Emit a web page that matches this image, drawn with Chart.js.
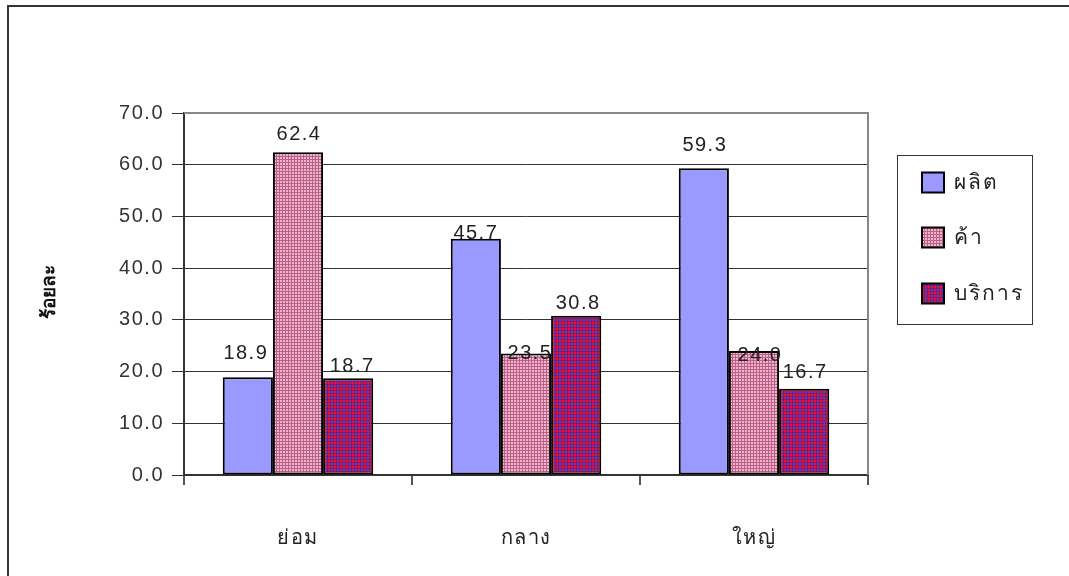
<!DOCTYPE html>
<html>
<head>
<meta charset="utf-8">
<script src="https://cdn.jsdelivr.net/npm/chart.js@4"></script>
<style>
  html, body { margin: 0; padding: 0; background: #fff; }
  #wrap { width: 1069px; height: 576px; position: relative; }
</style>
</head>
<body>
<div id="wrap"><canvas id="myChart" width="1069" height="576"></canvas></div>
<script>
(function () {
    'use strict';

    // Chart data
    var categories = ['ย่อม', 'กลาง', 'ใหญ่'];
    var seriesNames = ['ผลิต', 'ค้า', 'บริการ'];
    var valsProduce = [18.9, 45.7, 59.3];
    var valsTrade   = [62.4, 23.5, 24.0];
    var valsService = [18.7, 30.8, 16.7];
    var yTicks = [0, 10, 20, 30, 40, 50, 60, 70];
    var yTitle = 'ร้อยละ';

    var FONT = "'Liberation Sans', Arial, 'Noto Sans', sans-serif";

    // label nudges (gap above bar top, horizontal shift) per series / category
    var labelGap = [[18, 0, 17], [12, -6, -10], [6, 7, 11]];
    var labelDx  = [[-2, 0, 1], [1, 4, 6], [4, 2, 1]];

    // Fill patterns
    function makePattern(size, draw) {
        var c = document.createElement('canvas');
        c.width = size; c.height = size;
        var g = c.getContext('2d');
        draw(g);
        return g.createPattern(c, 'repeat');
    }

    var ctx = document.getElementById('myChart').getContext('2d');

    var pinkGrid = makePattern(3, function (g) {
        g.fillStyle = '#ebb6cb';
        g.fillRect(0, 0, 3, 3);
        g.fillStyle = '#bd5f88';
        g.fillRect(0, 0, 3, 1);
        g.fillRect(0, 0, 1, 3);
    });

    var redBlue = makePattern(3, function (g) {
        g.fillStyle = '#ff0a1e';
        g.fillRect(0, 0, 3, 3);
        g.fillStyle = '#4030b0';
        g.fillRect(0, 0, 3, 1);
        g.fillRect(0, 0, 1, 3);
    });

    var fills = ['#9999ff', pinkGrid, redBlue];

    var spacing = {
        id: 'spacing',
        beforeDraw: function (chart) { chart.ctx.letterSpacing = '1.5px'; }
    };

    // Value labels, frame, legend box, y title
    var extras = {
        id: 'extras',
        afterDatasetsDraw: function (chart) {
            var c = chart.ctx;
            var area = chart.chartArea;
            c.save();
            c.letterSpacing = '1.5px';
            c.font = '20px ' + FONT;
            c.fillStyle = '#222';
            c.textAlign = 'center';
            c.textBaseline = 'alphabetic';
            chart.data.datasets.forEach(function (ds, di) {
                chart.getDatasetMeta(di).data.forEach(function (bar, i) {
                    c.fillText(ds.data[i].toFixed(1), bar.x + labelDx[di][i], bar.y - labelGap[di][i]);
                });
            });

            // plot frame top/right
            c.strokeStyle = '#888';
            c.lineWidth = 2;
            c.beginPath();
            c.moveTo(area.left, area.top);
            c.lineTo(area.right, area.top);
            c.lineTo(area.right, area.bottom);
            c.stroke();

            // outer border
            c.strokeStyle = '#333';
            c.lineWidth = 2;
            c.beginPath();
            c.moveTo(8, 600);
            c.lineTo(8, 6);
            c.lineTo(1100, 6);
            c.stroke();

            // legend box
            c.strokeStyle = '#333';
            c.lineWidth = 1;
            c.strokeRect(897.5, 155.5, 135, 169);
            c.textAlign = 'left';
            c.textBaseline = 'middle';
            c.font = '21px ' + FONT;
            c.letterSpacing = '2px';
            var rows = [182.5, 237.5, 293.5];
            seriesNames.forEach(function (name, k) {
                c.fillStyle = fills[k];
                c.fillRect(922, rows[k] - 10, 22, 20);
                c.strokeStyle = '#000';
                c.lineWidth = 2;
                c.strokeRect(922, rows[k] - 10, 22, 20);
                c.fillStyle = '#222';
                c.fillText(name, 954, rows[k] + 1);
            });

            // y title
            c.letterSpacing = '0px';
            c.translate(50, 292);
            c.rotate(-Math.PI / 2);
            c.textAlign = 'center';
            c.font = 'bold 19px ' + FONT;
            c.fillStyle = '#111';
            c.fillText(yTitle, 0, 0);
            c.restore();
        }
    };

    var config = {
        type: 'bar',
        data: {
            labels: categories,
            datasets: [
                { label: seriesNames[0], data: valsProduce },
                { label: seriesNames[1], data: valsTrade },
                { label: seriesNames[2], data: valsService }
            ].map(function (ds, k) {
                ds.backgroundColor = fills[k];
                ds.borderColor = '#000';
                ds.borderWidth = 2;
                ds.borderSkipped = false;
                ds.categoryPercentage = 0.66;
                ds.barPercentage = 1.0;
                return ds;
            })
        },
        options: {
            responsive: false,
            animation: false,
            events: [],
            layout: { padding: { left: 8, right: 201, top: 113, bottom: 21 } },
            plugins: { legend: { display: false }, tooltip: { enabled: false } },
            scales: {
                x: {
                    afterFit: function (s) { s.height = 80; },
                    grid: {
                        offset: true,
                        drawOnChartArea: false,
                        drawTicks: true,
                        tickLength: 10,
                        color: '#555',
                        lineWidth: 2
                    },
                    border: { color: '#333', width: 2 },
                    ticks: {
                        padding: 41,
                        color: '#222',
                        font: { size: 20, family: FONT }
                    }
                },
                y: {
                    min: 0,
                    max: 70,
                    afterFit: function (s) { s.width = 176; },
                    afterBuildTicks: function (s) {
                        s.ticks = yTicks.map(function (v) { return { value: v }; });
                    },
                    grid: {
                        color: '#333',
                        lineWidth: 1,
                        tickLength: 12,
                        drawTicks: true
                    },
                    border: { color: '#333', width: 2 },
                    ticks: {
                        padding: 8,
                        color: '#333',
                        font: { size: 20, family: FONT },
                        callback: function (v) { return Number(v).toFixed(1); }
                    }
                }
            }
        },
        plugins: [spacing, extras]
    };

    new Chart(ctx, config);
}());
</script>
</body>
</html>
